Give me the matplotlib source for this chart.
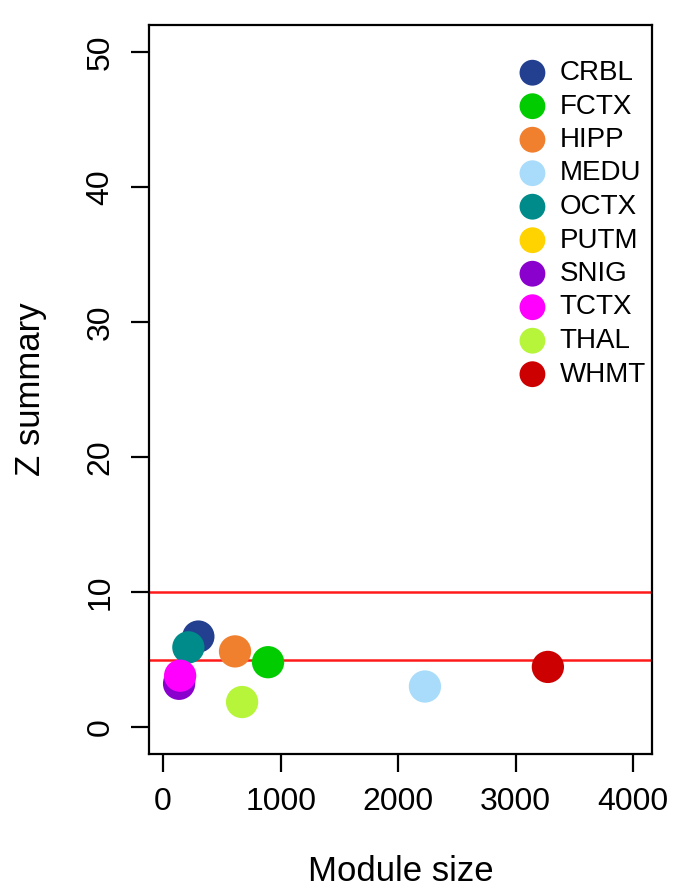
import numpy as np
import matplotlib
matplotlib.use("Agg")
import matplotlib.pyplot as plt

# regions, module size, Z summary
regions = ["CRBL", "FCTX", "HIPP", "MEDU", "OCTX", "PUTM", "SNIG", "TCTX", "THAL", "WHMT"]
module_size = [300, 893, 612, 2228, 215, 140, 136, 145, 672, 3274]
z_summary = [6.7, 4.8, 5.6, 3.0, 5.9, 3.5, 3.2, 3.8, 1.85, 4.45]
colors = ["#22408f", "#00cc00", "#f07f2e", "#a9dcfa", "#008b8b",
          "#ffd300", "#8a00cc", "#ff00ff", "#b6f53a", "#cc0000"]
thresholds = [10, 5]

plt.rcParams['font.family'] = ['Liberation Sans', 'DejaVu Sans']

fig = plt.figure(figsize=(6.93, 8.92), dpi=100)
ax = fig.add_axes([149/693, 1 - 754/892, (652 - 149)/693, (754 - 25)/892])

for t in thresholds:
    ax.axhline(t, color="#ff1a1a", lw=1.8, zorder=1)

for i, r in enumerate(regions):
    ax.scatter(module_size[i], z_summary[i], s=540, color=colors[i], edgecolors="none",
               label=r, zorder=2 + i)

ax.set_xlim(-120, 4160)
ax.set_ylim(-2, 52)
ax.set_xticks([0, 1000, 2000, 3000, 4000])
ax.set_yticks([0, 10, 20, 30, 40, 50])
ax.tick_params(axis="both", length=13, width=1.6, labelsize=23, direction="out")
ax.tick_params(axis="x", pad=11)
ax.tick_params(axis="y", pad=11)
for lbl in ax.get_yticklabels():
    lbl.set_rotation(90)
    lbl.set_va("center")
for s in ax.spines.values():
    s.set_linewidth(1.6)

ax.set_xlabel("Module size", fontsize=25, labelpad=27)
ax.set_ylabel("Z summary", fontsize=25, labelpad=28)

leg = ax.legend(loc="upper left", bbox_to_anchor=(513/693, 1 - 60/892),
                bbox_transform=fig.transFigure, frameon=False, fontsize=20,
                markerscale=0.8, handletextpad=0.27, labelspacing=0.27,
                borderaxespad=0, borderpad=0, handlelength=1.4)

fig.savefig("out.png", dpi=100)
